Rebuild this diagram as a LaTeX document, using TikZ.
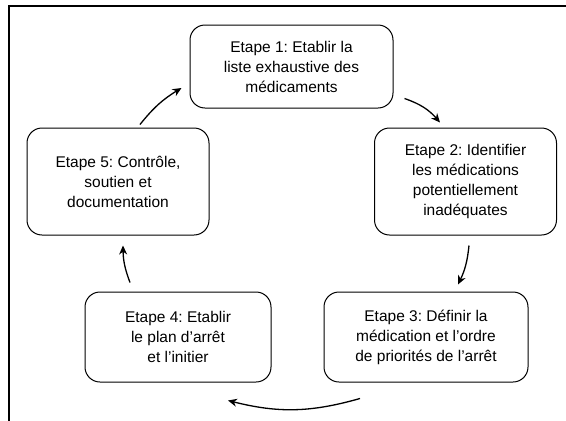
\documentclass[tikz,border=0pt]{standalone}
\usepackage{fontspec}
\setmainfont{Liberation Sans}
\usetikzlibrary{arrows.meta}
\frenchspacing

\begin{document}
\begin{tikzpicture}[x=1pt,y=-1pt,->,>={Stealth[length=9pt,width=8pt]},line width=1pt,
  etape node/.style={draw,rounded corners=15pt,align=center,inner sep=0pt,font=\fontsize{15.5}{20}\selectfont}]
  \useasboundingbox (0,0) rectangle (566,421);
  \draw[-,line width=1.2pt] (9,421) -- (9,6) -- (566,6);

  \node[etape node,minimum width=203pt,minimum height=83pt] (1) at (291.5,66.5) {Etape 1: Etablir la\\liste exhaustive des\\médicaments};
  \node[etape node,minimum width=182pt,minimum height=107pt] (2) at (465.5,181.5) {Etape 2: Identifier\\les médications\\potentiellement\\inadéquates};
  \node[etape node,minimum width=204pt,minimum height=90pt] (3) at (426,337) {Etape 3: Définir la\\médication et l’ordre\\de priorités de l’arrêt};
  \node[etape node,minimum width=186pt,minimum height=90pt] (4) at (178,337) {Etape 4: Etablir\\le plan d’arrêt\\et l’initier};
  \node[etape node,minimum width=182pt,minimum height=107pt] (5) at (118,181.5) {Etape 5: Contrôle,\\soutien et\\documentation};

\path[line width=1.3pt]
  ([shift={(11,-10)}]1.south east) edge [bend left=15] ([shift={(-25.5,-5)}]2.north)
  ([shift={(3.5,10)}]2.south) edge [bend left=10] ([shift={(32,-7)}]3.north)
  ([shift={(-66,16)}]3.south) edge [bend left=15] ([shift={(50,18)}]4.south)
  ([shift={(-48,-9)}]4.north) edge [bend left=10] ([shift={(5,10)}]5.south)
  ([shift={(22,-3)}]5.north) edge [bend left=10] ([shift={(-8,21.5)}]1.west)
;
\end{tikzpicture}
\end{document}
